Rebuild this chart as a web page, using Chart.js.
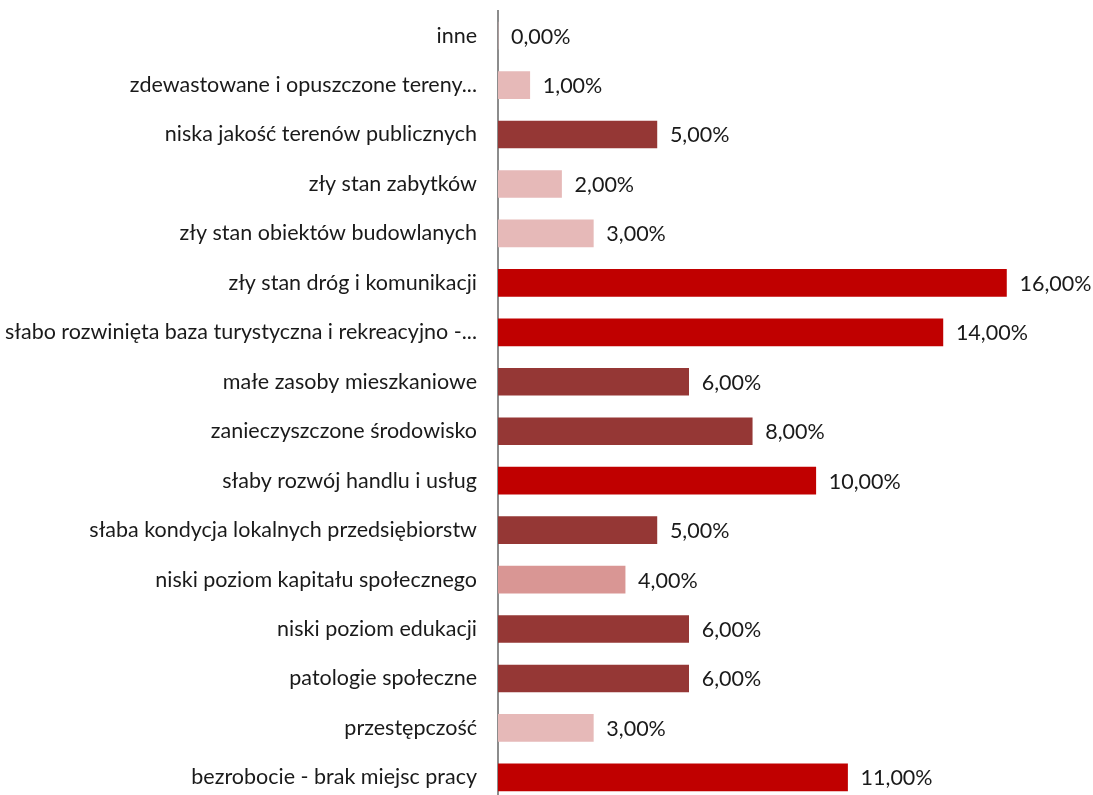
<!DOCTYPE html>
<html>
<head>
<meta charset="utf-8">
<script src="https://cdn.jsdelivr.net/npm/chart.js@4"></script>
<style>
  html, body { margin: 0; padding: 0; background: #fff; overflow: hidden; }
  body { width: 1093px; height: 795px; position: relative; }
  #wrap { width: 1093px; height: 859px; position: absolute; left: 0; top: -23px; }
</style>
</head>
<body>
<div id="wrap"><canvas id="wykres"></canvas></div>
<script>
// kategorie (od góry do dołu)
const kategorie = [
  'inne',
  'zdewastowane i opuszczone tereny...',
  'niska jakość terenów publicznych',
  'zły stan zabytków',
  'zły stan obiektów budowlanych',
  'zły stan dróg i komunikacji',
  'słabo rozwinięta baza turystyczna i rekreacyjno -...',
  'małe zasoby mieszkaniowe',
  'zanieczyszczone środowisko',
  'słaby rozwój handlu i usług',
  'słaba kondycja lokalnych przedsiębiorstw',
  'niski poziom kapitału społecznego',
  'niski poziom edukacji',
  'patologie społeczne',
  'przestępczość',
  'bezrobocie - brak miejsc pracy'
];

// wartości w procentach
const wartosci = [0, 1, 5, 2, 3, 16, 14, 6, 8, 10, 5, 4, 6, 6, 3, 11];

// kolory słupków
const kolory = [
  '#E6B9B8', '#E6B9B8', '#953735', '#E6B9B8', '#E6B9B8', '#C00000',
  '#C00000', '#953735', '#953735', '#C00000', '#953735', '#D99694',
  '#953735', '#953735', '#E6B9B8', '#C00000'
];

const czcionka = "Lato, 'Open Sans', sans-serif";
const rozmiar = 21.5;

// etykiety wartości po prawej stronie słupków
const etykiety = {
  id: 'etykiety',
  afterDatasetsDraw(chart) {
    const c = chart.ctx;
    const meta = chart.getDatasetMeta(0);
    c.save();
    c.font = rozmiar + 'px ' + czcionka;
    c.fillStyle = '#1a1a1a';
    c.textAlign = 'left';
    c.textBaseline = 'middle';
    meta.data.forEach((bar, i) => {
      const txt = wartosci[i].toFixed(2).replace('.', ',') + '%';
      c.fillText(txt, bar.x + 13, bar.y + 1);
    });
    c.restore();
  }
};

const ctx = document.getElementById('wykres').getContext('2d');
new Chart(ctx, {
  type: 'bar',
  data: {
    labels: kategorie,
    datasets: [{
      data: wartosci,
      backgroundColor: kolory,
      barThickness: 27
    }]
  },
  options: {
    indexAxis: 'y',
    responsive: true,
    maintainAspectRatio: false,
    animation: false,
    layout: { padding: { top: 0, bottom: 0, left: 0, right: 23 } },
    plugins: {
      legend: { display: false },
      tooltip: { enabled: false }
    },
    scales: {
      x: {
        display: false,
        min: 0,
        max: 18
      },
      y: {
        grid: { display: false, drawTicks: false },
        border: { display: true, color: '#8c8c8c', width: 2 },
        ticks: {
          color: '#1a1a1a',
          padding: 21,
          font: { family: czcionka, size: rozmiar }
        },
        afterFit(scale) { scale.width = 498; }
      }
    }
  },
  plugins: [etykiety]
});
</script>
</body>
</html>
